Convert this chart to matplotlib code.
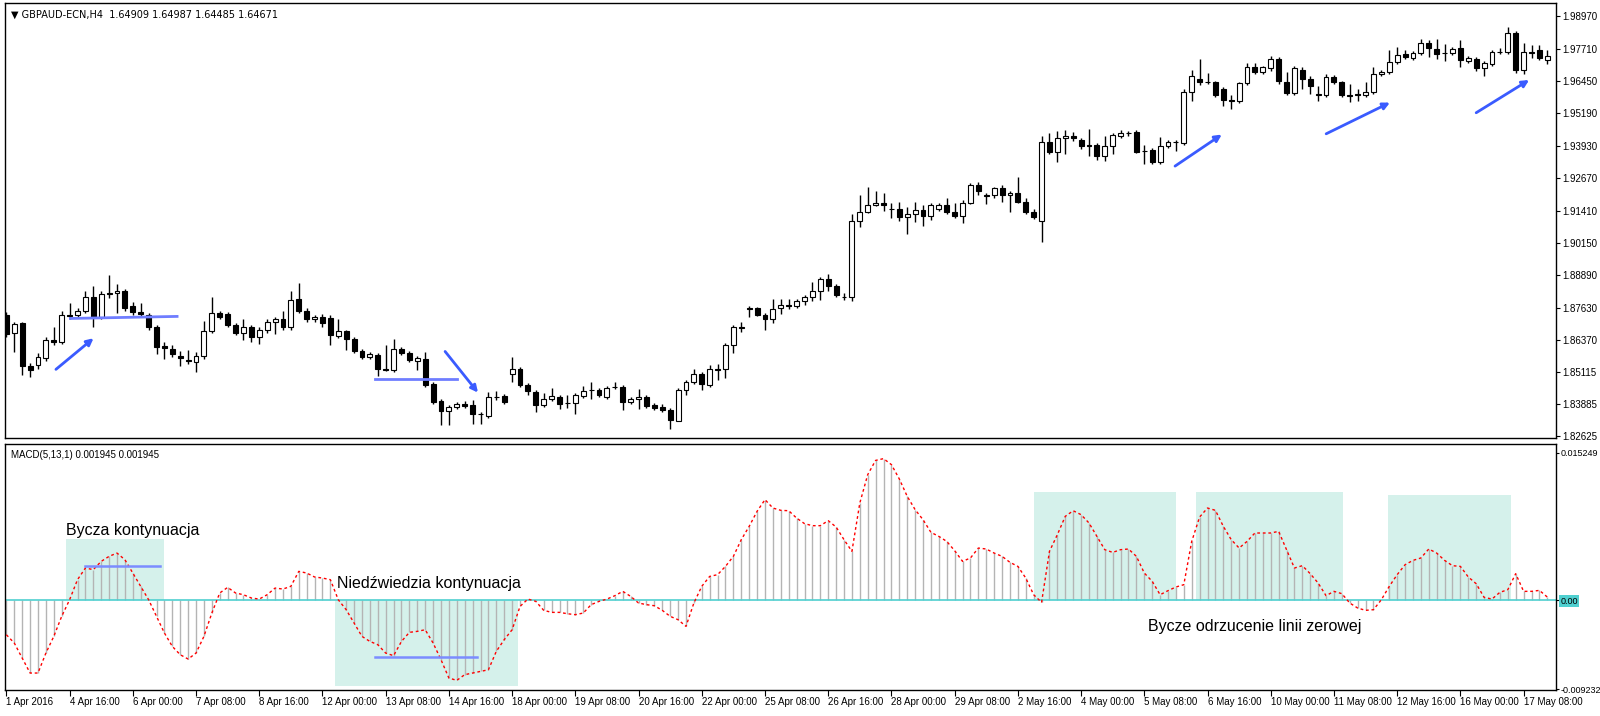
import numpy as np
import matplotlib
matplotlib.use("Agg")
import matplotlib.pyplot as plt
from matplotlib.patches import Rectangle

plt.rcParams['font.family'] = ['Liberation Sans', 'DejaVu Sans']

opens = [1.8733,1.8663,1.8702,1.8536,1.8540,1.8567,1.8636,1.8628,1.8733,1.8733,1.8752,1.8806,1.8725,1.8821,1.8821,1.8829,1.8771,1.8748,1.8736,1.8686,
1.8613,1.8601,1.8574,1.8559,1.8551,1.8574,1.8671,1.8744,1.8740,1.8694,1.8663,1.8686,1.8648,1.8675,1.8706,1.8717,1.8686,1.8798,1.8752,1.8717,
1.8725,1.8721,1.8651,1.8671,1.8640,1.8594,1.8570,1.8578,1.8524,1.8520,1.8601,1.8586,1.8555,1.8563,1.8466,1.8401,1.8362,1.8377,1.8389,1.8385,
1.8350,1.8343,1.8416,1.8420,1.8505,1.8524,1.8462,1.8435,1.8385,1.8408,1.8416,1.8393,1.8393,1.8420,1.8443,1.8443,1.8416,1.8455,1.8455,1.8397,
1.8408,1.8416,1.8385,1.8377,1.8366,1.8323,1.8443,1.8474,1.8505,1.8462,1.8524,1.8524,1.8617,1.8686,1.8760,1.8760,1.8736,1.8717,1.8763,1.8775,
1.8771,1.8790,1.8806,1.8829,1.8875,1.8848,1.8806,1.8806,1.9099,1.9134,1.9161,1.9169,1.9149,1.9146,1.9115,1.9126,1.9142,1.9119,1.9146,1.9161,
1.9134,1.9119,1.9169,1.9242,1.9200,1.9200,1.9227,1.9200,1.9211,1.9173,1.9134,1.9099,1.9408,1.9369,1.9423,1.9431,1.9416,1.9396,1.9396,1.9354,
1.9393,1.9431,1.9443,1.9447,1.9373,1.9377,1.9331,1.9393,1.9408,1.9404,1.9601,1.9655,1.9643,1.9640,1.9613,1.9570,1.9566,1.9636,1.9698,1.9682,
1.9694,1.9732,1.9643,1.9597,1.9690,1.9655,1.9593,1.9589,1.9659,1.9640,1.9589,1.9593,1.9589,1.9601,1.9674,1.9682,1.9721,1.9752,1.9736,1.9755,
1.9794,1.9771,1.9755,1.9755,1.9775,1.9725,1.9732,1.9694,1.9713,1.9759,1.9759,1.9833,1.9690,1.9759,1.9767,1.9728]
highs = [1.8748,1.8709,1.8709,1.8547,1.8586,1.8648,1.8686,1.8752,1.8783,1.8763,1.8829,1.8848,1.8829,1.8891,1.8856,1.8837,1.8787,1.8783,1.8744,1.8694,
1.8628,1.8617,1.8594,1.8597,1.8590,1.8713,1.8806,1.8752,1.8748,1.8702,1.8717,1.8694,1.8686,1.8717,1.8725,1.8752,1.8829,1.8860,1.8760,1.8733,
1.8740,1.8733,1.8717,1.8678,1.8648,1.8601,1.8590,1.8586,1.8617,1.8640,1.8609,1.8594,1.8574,1.8590,1.8474,1.8408,1.8385,1.8397,1.8401,1.8404,
1.8358,1.8435,1.8439,1.8428,1.8570,1.8532,1.8470,1.8443,1.8431,1.8451,1.8424,1.8424,1.8431,1.8458,1.8474,1.8451,1.8458,1.8474,1.8462,1.8416,
1.8447,1.8424,1.8393,1.8389,1.8374,1.8451,1.8482,1.8524,1.8513,1.8540,1.8543,1.8624,1.8694,1.8706,1.8771,1.8767,1.8744,1.8798,1.8798,1.8798,
1.8798,1.8814,1.8864,1.8883,1.8895,1.8856,1.8821,1.9126,1.9203,1.9234,1.9219,1.9211,1.9169,1.9176,1.9153,1.9176,1.9161,1.9169,1.9169,1.9188,
1.9169,1.9184,1.9250,1.9254,1.9211,1.9234,1.9242,1.9219,1.9273,1.9188,1.9146,1.9431,1.9443,1.9450,1.9454,1.9447,1.9423,1.9458,1.9404,1.9431,
1.9443,1.9454,1.9450,1.9454,1.9396,1.9385,1.9427,1.9416,1.9416,1.9616,1.9690,1.9732,1.9678,1.9647,1.9620,1.9589,1.9643,1.9717,1.9717,1.9705,
1.9744,1.9740,1.9682,1.9705,1.9698,1.9663,1.9624,1.9674,1.9667,1.9647,1.9632,1.9613,1.9640,1.9701,1.9690,1.9767,1.9779,1.9767,1.9763,1.9809,
1.9806,1.9809,1.9790,1.9779,1.9806,1.9744,1.9740,1.9725,1.9767,1.9775,1.9856,1.9840,1.9794,1.9786,1.9786,1.9767]
lows = [1.8648,1.8590,1.8501,1.8493,1.8524,1.8555,1.8617,1.8621,1.8717,1.8725,1.8744,1.8686,1.8717,1.8802,1.8744,1.8752,1.8733,1.8725,1.8678,1.8582,
1.8563,1.8570,1.8536,1.8543,1.8512,1.8563,1.8663,1.8717,1.8686,1.8655,1.8636,1.8628,1.8621,1.8663,1.8659,1.8678,1.8678,1.8744,1.8709,1.8709,
1.8686,1.8617,1.8644,1.8597,1.8586,1.8563,1.8563,1.8497,1.8516,1.8512,1.8578,1.8551,1.8520,1.8455,1.8389,1.8308,1.8308,1.8370,1.8374,1.8312,
1.8312,1.8335,1.8404,1.8389,1.8474,1.8455,1.8424,1.8358,1.8377,1.8401,1.8370,1.8374,1.8350,1.8412,1.8408,1.8416,1.8408,1.8447,1.8366,1.8389,
1.8370,1.8374,1.8366,1.8358,1.8289,1.8320,1.8424,1.8466,1.8443,1.8455,1.8482,1.8489,1.8586,1.8667,1.8725,1.8729,1.8678,1.8702,1.8740,1.8756,
1.8763,1.8775,1.8790,1.8794,1.8829,1.8806,1.8794,1.8790,1.9076,1.9130,1.9157,1.9138,1.9111,1.9099,1.9049,1.9095,1.9080,1.9103,1.9138,1.9126,
1.9111,1.9092,1.9165,1.9200,1.9165,1.9188,1.9173,1.9134,1.9169,1.9126,1.9107,1.9018,1.9362,1.9331,1.9362,1.9412,1.9381,1.9354,1.9339,1.9335,
1.9362,1.9423,1.9431,1.9366,1.9323,1.9323,1.9323,1.9385,1.9373,1.9396,1.9566,1.9628,1.9632,1.9582,1.9547,1.9535,1.9559,1.9628,1.9674,1.9674,
1.9686,1.9632,1.9589,1.9589,1.9613,1.9593,1.9566,1.9582,1.9632,1.9582,1.9562,1.9566,1.9582,1.9593,1.9663,1.9671,1.9713,1.9732,1.9728,1.9748,
1.9740,1.9732,1.9725,1.9748,1.9701,1.9717,1.9686,1.9663,1.9705,1.9752,1.9752,1.9678,1.9674,1.9736,1.9728,1.9713]
closes = [1.8659,1.8698,1.8536,1.8520,1.8570,1.8636,1.8628,1.8733,1.8729,1.8752,1.8806,1.8725,1.8817,1.8817,1.8829,1.8760,1.8748,1.8740,1.8686,1.8609,
1.8605,1.8582,1.8567,1.8555,1.8574,1.8671,1.8744,1.8725,1.8694,1.8663,1.8686,1.8648,1.8675,1.8706,1.8717,1.8686,1.8794,1.8752,1.8717,1.8725,
1.8702,1.8655,1.8671,1.8640,1.8594,1.8570,1.8582,1.8524,1.8522,1.8601,1.8586,1.8559,1.8567,1.8462,1.8397,1.8362,1.8377,1.8389,1.8381,1.8350,
1.8348,1.8416,1.8414,1.8397,1.8524,1.8462,1.8439,1.8385,1.8408,1.8420,1.8389,1.8391,1.8424,1.8439,1.8441,1.8424,1.8451,1.8453,1.8397,1.8408,
1.8416,1.8381,1.8374,1.8366,1.8327,1.8443,1.8474,1.8505,1.8466,1.8524,1.8522,1.8617,1.8686,1.8684,1.8758,1.8736,1.8717,1.8756,1.8775,1.8771,
1.8790,1.8806,1.8829,1.8875,1.8848,1.8814,1.8804,1.9099,1.9134,1.9161,1.9169,1.9161,1.9147,1.9115,1.9126,1.9142,1.9119,1.9161,1.9161,1.9134,
1.9119,1.9169,1.9242,1.9219,1.9198,1.9227,1.9200,1.9211,1.9176,1.9134,1.9115,1.9408,1.9369,1.9423,1.9431,1.9423,1.9393,1.9394,1.9354,1.9393,
1.9435,1.9443,1.9441,1.9369,1.9371,1.9331,1.9393,1.9408,1.9406,1.9601,1.9663,1.9643,1.9640,1.9589,1.9570,1.9568,1.9636,1.9701,1.9682,1.9698,
1.9732,1.9647,1.9597,1.9694,1.9655,1.9624,1.9591,1.9659,1.9640,1.9589,1.9587,1.9591,1.9601,1.9674,1.9682,1.9721,1.9748,1.9740,1.9755,1.9794,
1.9775,1.9752,1.9753,1.9771,1.9728,1.9736,1.9694,1.9717,1.9759,1.9757,1.9833,1.9690,1.9759,1.9755,1.9736,1.9744]

# MACD(5,13,1) values, in units of 1e-4
macd_e4 = [-36.0,-44.6,-60.2,-75.7,-75.7,-55.0,-37.7,-16.9,0.3,21.1,33.2,31.5,40.1,45.3,48.7,41.8,28.0,14.2,0.3,-16.9,
-34.2,-48.1,-56.7,-61.2,-55.0,-37.7,-13.5,7.3,13.1,7.3,5.5,2.1,1.0,5.5,12.4,11.4,14.2,29.7,28.0,23.9,
22.8,21.1,0.3,-10.0,-23.9,-37.7,-42.9,-46.3,-55.0,-57.7,-42.9,-33.5,-32.5,-30.8,-44.6,-61.9,-80.9,-83.3,-77.4,-75.7,
-74.0,-72.3,-53.2,-41.1,-30.8,-6.6,1.0,-1.4,-10.7,-12.8,-12.8,-14.2,-15.2,-13.5,-4.8,-1.4,1.0,4.5,9.0,3.8,
-3.1,-4.8,-5.9,-10.7,-16.9,-20.4,-27.3,-3.1,14.2,24.5,26.3,34.9,45.3,62.6,76.4,92.0,104.1,
95.4,93.0,92.6,85.0,79.2,77.1,77.1,82.3,75.7,62.6,50.5,100.6,130.0,144.8,146.6,140.4,125.5,107.5,93.7,83.3,
70.2,66.0,60.8,51.2,40.1,43.6,53.9,52.9,48.7,45.3,39.1,34.9,22.8,5.5,-2.4,50.5,67.8,86.8,92.6,88.5,
79.9,66.0,52.2,49.4,52.2,52.9,45.3,28.0,19.4,5.5,9.7,13.5,15.9,60.8,86.1,95.4,93.0,76.4,62.6,53.9,
60.8,69.5,69.5,69.5,71.2,
52.2,33.2,35.6,27.3,17.6,4.5,9.0,6.6,-3.1,-8.3,-10.7,-10.0,0.3,14.2,26.3,36.6,41.1,43.6,52.9,48.7,
41.1,35.6,34.9,23.9,16.9,2.8,1.0,8.0,10.7,27.3,9.0,9.0,10.0,3.1]

time_labels = ["1 Apr 2016","4 Apr 16:00","6 Apr 00:00","7 Apr 08:00","8 Apr 16:00","12 Apr 00:00",
"13 Apr 08:00","14 Apr 16:00","18 Apr 00:00","19 Apr 08:00","20 Apr 16:00","22 Apr 00:00",
"25 Apr 08:00","26 Apr 16:00","28 Apr 00:00","29 Apr 08:00","2 May 16:00","4 May 00:00",
"5 May 08:00","6 May 16:00","10 May 00:00","11 May 08:00","12 May 16:00","16 May 00:00","17 May 08:00"]
price_ticks = [1.98970,1.97710,1.96450,1.95190,1.93930,1.92670,1.91410,1.90150,1.88890,1.87630,1.86370,1.85115,1.83885,1.82625]
macd_ticks = [0.015249, 0.0, -0.009232]

# annotations
boxes = [(7.6,19.9,0.0,0.00636),(41.6,64.8,-0.00888,0.0),(130.1,148.0,0.0,0.01117),(150.6,169.1,0.0,0.01117),(174.9,190.4,0.0,0.01085)]
macd_hlines = [(10.0,19.4,0.00356),(46.6,59.5,-0.00591)]
price_hlines = [(8.1,21.6,1.8721,1.8729),(46.6,57.0,1.8485,1.8485)]
arrows = [(6.0,1.8516,11.3,1.8651),(55.3,1.8601,59.9,1.8424),(147.6,1.9308,154.1,1.9443),(166.7,1.9435,175.4,1.9566),(185.7,1.9516,193.0,1.9655)]

O = np.array(opens); H = np.array(highs); L = np.array(lows); C = np.array(closes)
macd = np.array(macd_e4) * 1e-4
n = len(C)
x = np.arange(n)

fig = plt.figure(figsize=(16, 7.16), dpi=100)
fig.patch.set_facecolor("white")
ax1 = fig.add_axes([0.003, 0.388, 0.9695, 0.6075])
ax2 = fig.add_axes([0.003, 0.0363, 0.9695, 0.3436])
xlim = (-0.2, 196.1)

# candles
ax1.vlines(x, L, H, color="black", lw=1, zorder=2)
up = C >= O
body_h = np.maximum(np.abs(C - O), 0.00006)
ax1.bar(x, body_h, bottom=np.minimum(O, C), width=0.62,
        color=np.where(up, "white", "black"), edgecolor="black", lw=0.8, zorder=3)
for x0, x1, y0, y1 in price_hlines:
    ax1.plot([x0, x1], [y0, y1], color="#6f7dff", lw=2, zorder=4)
for x0, y0, x1, y1 in arrows:
    ax1.annotate("", xy=(x1, y1), xytext=(x0, y0),
                 arrowprops=dict(arrowstyle="-|>", color="#3a5bff", lw=2, mutation_scale=10), zorder=5)
ax1.set_xlim(*xlim)
ax1.set_ylim(1.8255, 1.9948)
ax1.yaxis.tick_right()
ax1.set_yticks(price_ticks)
ax1.set_yticklabels([f"{t:.5f}" for t in price_ticks], fontsize=7)
ax1.set_xticks([])
ax1.tick_params(axis="y", length=3, pad=1.5)
ax1.text(0.004, 0.985, "\u25bc GBPAUD-ECN,H4  1.64909 1.64987 1.64485 1.64671", transform=ax1.transAxes,
         fontsize=7, va="top", ha="left", family=['DejaVu Sans'])

# MACD panel
for x0, x1, y0, y1 in boxes:
    ax2.add_patch(Rectangle((x0, y0), x1 - x0, y1 - y0, color="#d5f1eb", zorder=0, lw=0))
ax2.vlines(x, 0, macd, color="#b4b4b4", lw=1, zorder=1)
ax2.axhline(0, color="#4fd0d0", lw=1.2, zorder=2)
ax2.plot(x, macd, color="red", lw=1, ls=(0, (2, 2)), zorder=3)
for x0, x1, y0 in macd_hlines:
    ax2.plot([x0, x1], [y0, y0], color="#7b8cff", lw=1.8, zorder=4)
ax2.text(7.5, 0.0072, "Bycza kontynuacja", fontsize=11.5, va="center", ha="left")
ax2.text(41.8, 0.0017, "Niedźwiedzia kontynuacja", fontsize=11.5, va="center", ha="left")
ax2.text(144.5, -0.0027, "Bycze odrzucenie linii zerowej", fontsize=11.5, va="center", ha="left")
ax2.text(0.004, 0.975, "MACD(5,13,1) 0.001945 0.001945", transform=ax2.transAxes,
         fontsize=7, va="top", ha="left")
ax2.set_xlim(*xlim)
ax2.set_ylim(-0.00933, 0.01618)
ax2.yaxis.tick_right()
ax2.set_yticks(macd_ticks)
ax2.set_yticklabels(["0.015249", "0.00", "-0.009232"], fontsize=6.5)
ax2.get_yticklabels()[1].set_bbox(dict(facecolor="#4fd0d0", edgecolor="none", pad=1))
ax2.tick_params(axis="y", length=2, pad=1)
ax2.set_xticks(np.arange(len(time_labels)) * 8)
ax2.set_xticklabels(time_labels, fontsize=7, ha="left")
ax2.tick_params(axis="x", length=4, pad=1)

for ax in (ax1, ax2):
    for s in ax.spines.values():
        s.set_color("black"); s.set_linewidth(1)

fig.savefig("out.png", dpi=100)
